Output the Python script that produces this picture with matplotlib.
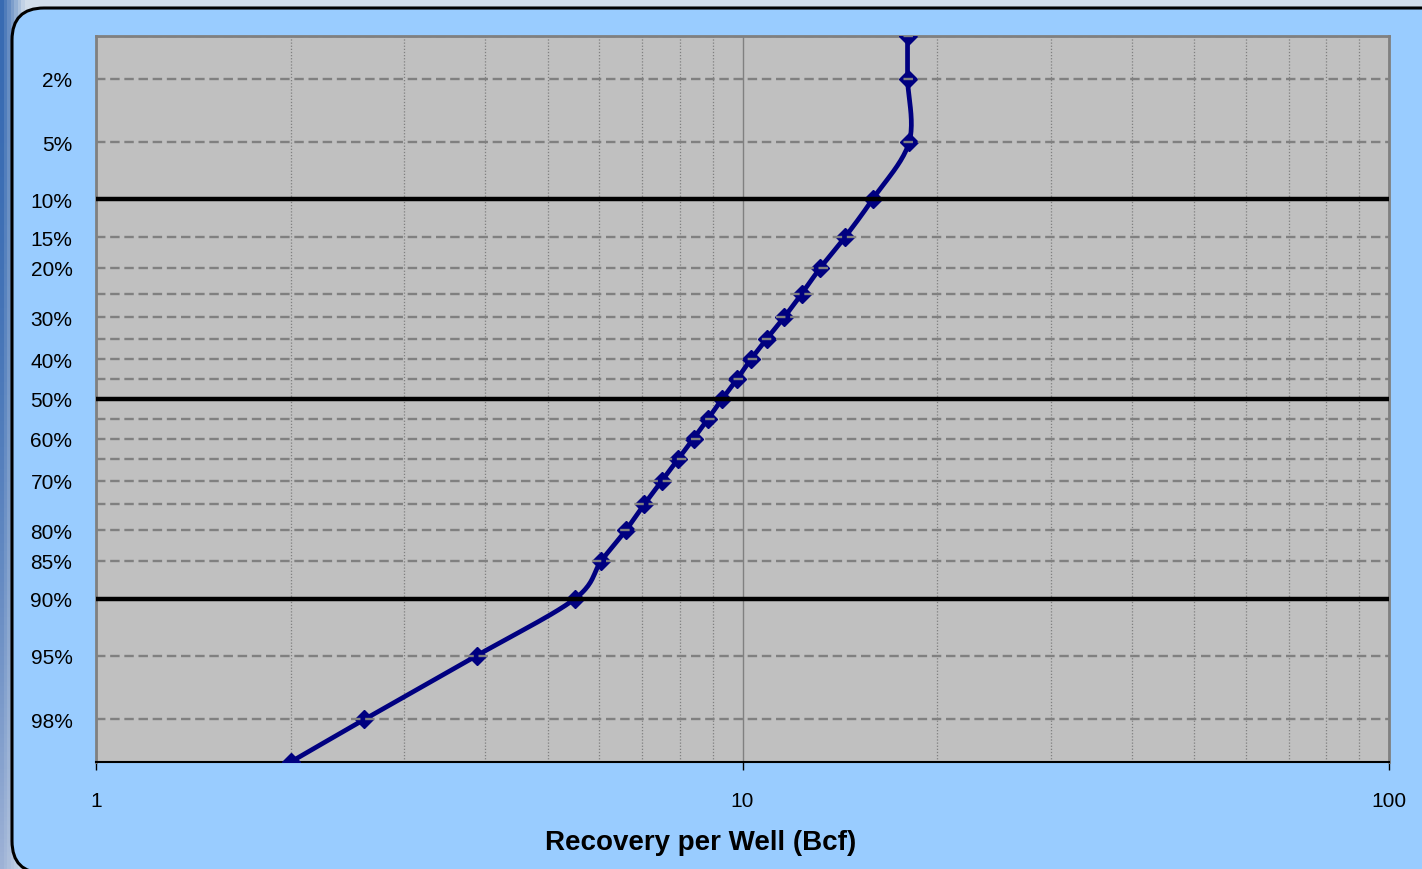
import numpy as np
import matplotlib
matplotlib.use('Agg')
import matplotlib.pyplot as plt
from matplotlib.patches import FancyBboxPatch
from matplotlib.transforms import IdentityTransform
from statistics import NormalDist

plt.rcParams['font.family'] = ['Liberation Sans', 'DejaVu Sans']

# cumulative probability of the well population (fraction) and recovery per well (Bcf)
percentile = [0.01, 0.02, 0.05, 0.10, 0.15, 0.20, 0.25, 0.30, 0.35, 0.40, 0.45, 0.50,
              0.55, 0.60, 0.65, 0.70, 0.75, 0.80, 0.85, 0.90, 0.95, 0.98, 0.99]
recovery = [18.0, 18.0, 18.1, 15.9, 14.4, 13.2, 12.35, 11.6, 10.9, 10.3, 9.8, 9.3,
            8.85, 8.4, 7.95, 7.5, 7.05, 6.6, 6.05, 5.5, 3.88, 2.6, 2.0]

tick_probs = [0.02, 0.05, 0.10, 0.15, 0.20, 0.30, 0.40, 0.50, 0.60, 0.70, 0.80, 0.85, 0.90, 0.95, 0.98]
tick_labels = ['2%', '5%', '10%', '15%', '20%', '30%', '40%', '50%', '60%', '70%', '80%', '85%', '90%', '95%', '98%']
dashed_levels = [0.01, 0.02, 0.05, 0.15, 0.20, 0.25, 0.30, 0.35, 0.40, 0.45, 0.55, 0.60,
                 0.65, 0.70, 0.75, 0.80, 0.85, 0.95, 0.98]
bold_levels = [0.10, 0.50, 0.90]
x_ticks = [1, 10, 100]

_nd = NormalDist()


def prob_to_z(p):
    p = np.clip(np.asarray(p, dtype=float), 1e-9, 1 - 1e-9)
    return np.vectorize(_nd.inv_cdf, otypes=[float])(p)


def z_to_prob(z):
    return np.vectorize(_nd.cdf, otypes=[float])(np.asarray(z, dtype=float))


def smooth_curve(x, p, steps=24):
    # Bezier smoothing through the points, done in log-x / normal-z space
    u = np.log10(np.asarray(x, dtype=float))
    v = prob_to_z(p)
    pts = np.column_stack([u, v])
    n = len(pts)
    out = []
    t = np.linspace(0, 1, steps)[:, None]
    for i in range(n - 1):
        p0 = pts[max(i - 1, 0)]
        p1 = pts[i]
        p2 = pts[i + 1]
        p3 = pts[min(i + 2, n - 1)]
        c1 = p1 + (p2 - p0) / 6.0
        c2 = p2 - (p3 - p1) / 6.0
        seg = ((1 - t) ** 3) * p1 + 3 * ((1 - t) ** 2) * t * c1 + 3 * (1 - t) * t ** 2 * c2 + t ** 3 * p2
        out.append(seg if i == 0 else seg[1:])
    out = np.vstack(out)
    return 10 ** out[:, 0], z_to_prob(out[:, 1])


W, H = 1422, 870
fig = plt.figure(figsize=(W / 100, H / 100), dpi=100)

# slide backdrop showing around the chart frame
bg = fig.add_axes([0, 0, 1, 1], zorder=-10)
rows = np.linspace(0, 1, 200)[:, None]
cols = np.linspace(0, 1, 400)[None, :]
img = np.zeros((200, 400, 3))
top_col = np.array([0.82, 0.87, 0.92])
left_col = np.array([0.22, 0.42, 0.70])
left_low = np.array([0.62, 0.70, 0.84])
mix = np.clip(cols * 60, 0, 1)[..., None]
left = left_col * (1 - rows[..., None] ** 2) + left_low * rows[..., None] ** 2
img[:] = left * (1 - mix) + top_col * mix
bg.imshow(img, aspect='auto', extent=[0, 1, 0, 1])
bg.set_axis_off()

frame = FancyBboxPatch((12, -4), 1450, H - 9 + 4,
                       boxstyle='round,pad=0,rounding_size=32',
                       transform=IdentityTransform(), facecolor='#99ccff',
                       edgecolor='black', linewidth=2.2, zorder=-5)
fig.patches.append(frame)

ax = fig.add_axes([96 / W, (H - 763) / H, (1389 - 96) / W, (763 - 37) / H])
ax.set_facecolor('#c0c0c0')
ax.set_xscale('log')
ax.set_yscale('function', functions=(prob_to_z, z_to_prob))
ax.set_xlim(1, 100)
ax.set_ylim(0.99, 0.01)

# vertical grid
ax.grid(which='minor', axis='x', color='#808080', linestyle=(0, (1, 1.5)), linewidth=0.9, zorder=1)
ax.grid(which='major', axis='x', color='#808080', linestyle='-', linewidth=1.0, zorder=1)
ax.set_axisbelow(True)

# recovery curve
sx, sp = smooth_curve(recovery, percentile)
ax.plot(sx, sp, color='#000080', linewidth=3.4, zorder=3, solid_capstyle='round')
ax.plot(recovery, percentile, linestyle='none', marker='D', markersize=9.5,
        color='#000080', zorder=4)

# probability reference lines
for lvl in dashed_levels:
    ax.axhline(lvl, color='#808080', linestyle=(0, (4, 2)), linewidth=1.7, zorder=5)
for lvl in bold_levels:
    ax.axhline(lvl, color='black', linewidth=3.2, zorder=6)

ax.set_yticks(tick_probs, tick_labels)
ax.yaxis.set_minor_locator(matplotlib.ticker.NullLocator())
ax.tick_params(axis='y', length=0, pad=17, labelsize=15)

ax.set_xticks(x_ticks, [str(v) for v in x_ticks])
ax.tick_params(axis='x', which='major', direction='out', length=6, width=1,
               color='black', pad=15, labelsize=15)
ax.tick_params(axis='x', which='minor', length=0)

for side in ['left', 'top', 'right']:
    ax.spines[side].set_color('#808080')
    ax.spines[side].set_linewidth(2)
ax.spines['bottom'].set_color('black')
ax.spines['bottom'].set_linewidth(1.5)

ax.set_xlabel('Recovery per Well (Bcf)', fontsize=20, fontweight='bold')
ax.xaxis.set_label_coords(0.468, -0.092)

fig.savefig('out.png', dpi=100)
